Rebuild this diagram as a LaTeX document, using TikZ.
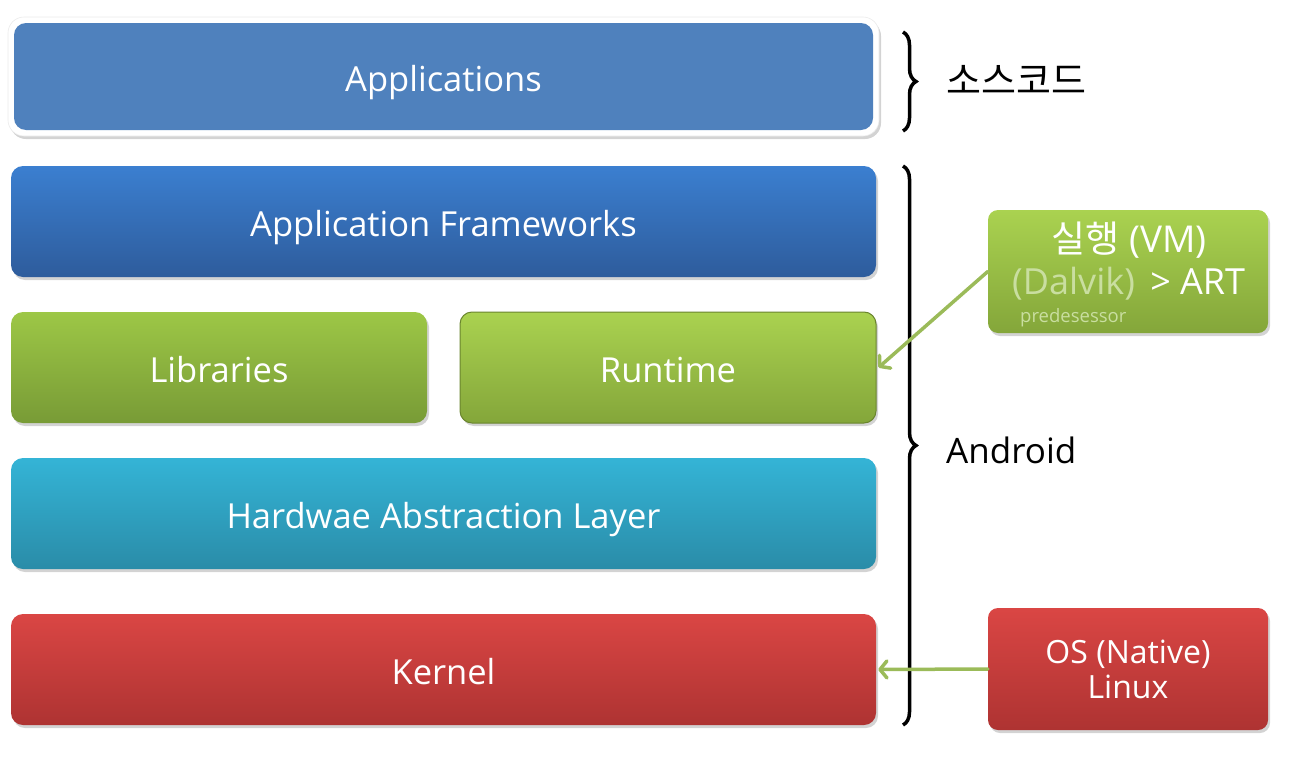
\documentclass[tikz,border=0pt]{standalone}
\usepackage{fontspec}
\setmainfont{Open Sans}
\newfontfamily\kor{Noto Sans CJK KR}
\usetikzlibrary{shadows,calc,decorations.pathreplacing,arrows.meta}
\definecolor{appblue}{HTML}{4F81BD}
\definecolor{fwtop}{HTML}{3B7FD0}
\definecolor{fwbot}{HTML}{2E5C9C}
\definecolor{gtop}{HTML}{9DC746}
\definecolor{gbot}{HTML}{789B36}
\definecolor{rtop}{HTML}{AAD250}
\definecolor{rbot}{HTML}{84A63A}
\definecolor{ctop}{HTML}{34B4D6}
\definecolor{cbot}{HTML}{2A8CA8}
\definecolor{redtop}{HTML}{DA4644}
\definecolor{redbot}{HTML}{AE3332}
\definecolor{arrowgreen}{HTML}{9BBB59}
\definecolor{dimtext}{HTML}{C9DEA0}
\tikzset{
  layer/.style={rounded corners=12pt, inner sep=0pt, text=white, text height=29pt, text depth=0pt,
    font=\fontsize{34.5}{38}\selectfont, drop shadow={shadow xshift=2pt, shadow yshift=-3pt, opacity=0.35}},
  side/.style={rounded corners=10pt, inner sep=0pt, text=white, align=center,
    font=\fontsize{32}{35}\selectfont, drop shadow={shadow xshift=2pt, shadow yshift=-3pt, opacity=0.35}},
  link/.style={draw=arrowgreen, line width=3.5pt, line cap=round,
    -{Straight Barb[length=7pt, width=17pt, line cap=round, line join=round]}},
  brace/.style={draw=black, line width=3.5pt, decorate, decoration={brace, amplitude=13pt}},
  bracelabel/.style={anchor=west, inner sep=0pt}
}
\begin{document}
\begin{tikzpicture}[x=1pt,y=-1pt]
\useasboundingbox (0,0) rectangle (1291,763);
% Applications with white frame
\node[rounded corners=16pt, fill=white, draw=black!8, line width=0.6pt, minimum width=871pt, minimum height=119pt,
  drop shadow={shadow xshift=2pt, shadow yshift=-3pt, opacity=0.35}] (appframe) at (443.5,76.5) {};
\node[rounded corners=12pt, fill=appblue, minimum width=859pt, minimum height=107pt,
  text=white, text height=29pt, text depth=0pt, font=\fontsize{34.5}{38}\selectfont] (app) at (443.5,76.5) {Applications};
% layers
\node[layer, top color=fwtop, bottom color=fwbot, minimum width=865pt, minimum height=111pt] (fw) at (443.5,221.5) {Application Frameworks};
\node[layer, top color=gtop, bottom color=gbot, minimum width=416pt, minimum height=111pt] (lib) at (219,367.5) {Libraries};
\node[layer, top color=rtop, bottom color=rbot, draw=rbot!80!black, line width=1pt, minimum width=416pt, minimum height=111pt] (rt) at (668,367.5) {Runtime};
\node[layer, top color=ctop, bottom color=cbot, minimum width=865pt, minimum height=111pt] (hal) at (443.5,513.5) {Hardwae Abstraction Layer};
\node[layer, top color=redtop, bottom color=redbot, minimum width=865pt, minimum height=111pt] (kern) at (443.5,669.5) {Kernel};
% side boxes
\node[side, top color=rtop, bottom color=rbot, minimum width=280pt, minimum height=123pt] (vm) at (1128,271.5) {};
\node[text=white, font=\fontsize{37}{38}\selectfont, inner sep=0pt] (vmt1) at (1129,240) {{\kor 실행} (VM)};
\node[font=\fontsize{36}{38}\selectfont, anchor=west, inner sep=0pt] (vmt2) at (1012,284) {\textcolor{dimtext}{(Dalvik)}\textcolor{white}{\, > ART}};
\node[font=\fontsize{18.5}{20}\selectfont, text=dimtext, anchor=west, inner sep=0pt] (vmt3) at (1020,318) {predesessor};
\node[side, top color=redtop, bottom color=redbot, minimum width=280pt, minimum height=122pt] (os) at (1128,669) {OS (Native)\\Linux};
% braces
\coordinate (b1t) at (903,32);
\coordinate (b1b) at (903,131);
\draw[brace] (b1t) -- (b1b);
\node[bracelabel, font=\kor\fontsize{38}{40}\selectfont] (src) at (946,80) {소스코드};
\coordinate (b2t) at (903,166);
\coordinate (b2b) at (903,725);
\draw[brace] (b2t) -- (b2b);
\node[bracelabel, font=\fontsize{35}{38}\selectfont] (android) at (946,450) {Android};
% arrows
\draw[link] (vm.west) -- ([xshift=2pt]rt.east);
\draw[link] (os.west) -- ([xshift=2pt]kern.east);
\end{tikzpicture}
\end{document}
